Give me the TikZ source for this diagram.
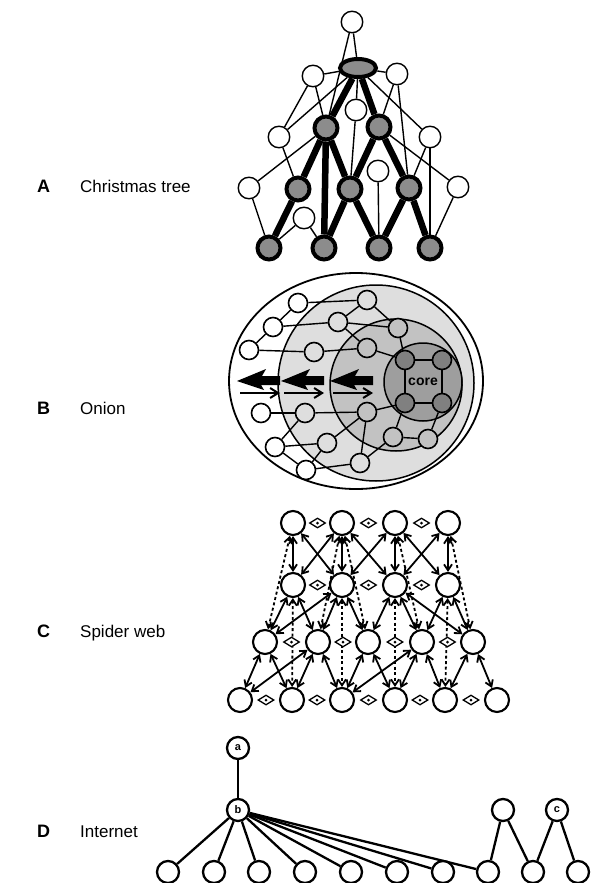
\documentclass[tikz,border=0pt]{standalone}
\usepackage{fontspec}
\setmainfont{Liberation Sans}
\usetikzlibrary{shapes.geometric,arrows.meta,calc}
\pgfdeclarelayer{rings}
\pgfdeclarelayer{edges}
\pgfsetlayers{rings,edges,main}
\begin{document}
\begin{tikzpicture}[x=1pt,y=-1pt,
  wn/.style={circle,draw,line width=1.4pt,fill=white,minimum size=21.5pt,inner sep=0pt},
  gn/.style={circle,draw,line width=4pt,fill=black!45,minimum size=23pt,inner sep=0pt},
  tline/.style={line width=1.4pt},
  thk/.style={line width=6.5pt},
  lab/.style={anchor=base west,inner sep=0pt,font=\fontsize{17}{20}\selectfont},
  letter/.style={anchor=base west,inner sep=0pt,font=\fontsize{18}{20}\selectfont\bfseries},
  on/.style={circle,draw,line width=1.6pt,minimum size=19pt,inner sep=0pt},
  oedge/.style={line width=1.4pt},
  sw/.style={circle,draw,line width=2.1pt,fill=white,minimum size=24pt,inner sep=0pt},
  swa/.style={line width=1.8pt,{Straight Barb[length=6pt,width=8pt]}-{Straight Barb[length=6pt,width=8pt]}},
  swd/.style={swa,dash pattern=on 3pt off 2.5pt},
  dia/.style={diamond,draw,line width=1.3pt,fill=white,minimum width=16pt,minimum height=10pt,inner sep=0pt},
  inet/.style={circle,draw,line width=2.3pt,fill=white,minimum size=22pt,inner sep=0pt,font=\fontsize{11}{12}\selectfont\bfseries},
  iedge/.style={line width=2.3pt}
]
\useasboundingbox (0,0) rectangle (590,883);
\begin{pgfonlayer}{rings}
\fill[white] (0,0) rectangle (590,883);
\end{pgfonlayer}

% ---------------- labels ----------------
\node[letter] (LA) at (37,192) {A};
\node[lab] (TA) at (80,192) {Christmas tree};
\node[letter] (LB) at (37,414) {B};
\node[lab] (TB) at (80,414) {Onion};
\node[letter] (LC) at (37,637) {C};
\node[lab] (TC) at (80,637) {Spider web};
\node[letter] (LD) at (37,837) {D};
\node[lab] (TD) at (80,837) {Internet};

% ---------------- A: Christmas tree ----------------
\node[wn] (T0) at (352,22) {};
\node[ellipse,draw,line width=4pt,fill=black!45,minimum width=36pt,minimum height=18pt,inner sep=0pt] (E) at (358,68) {};
\node[wn] (W1) at (313,76) {};
\node[wn] (W2) at (397,74) {};
\node[wn] (W3) at (356,110) {};
\node[gn] (G1) at (326,128) {};
\node[gn] (G2) at (379,127) {};
\node[wn] (W4) at (279,137) {};
\node[wn] (W5) at (430,137) {};
\node[wn] (W6) at (378,171) {};
\node[gn] (G3) at (298,189) {};
\node[gn] (G4) at (350,189) {};
\node[gn] (G5) at (409,188) {};
\node[wn] (W7) at (249,188) {};
\node[wn] (W8) at (458,187) {};
\node[wn] (W9) at (304,218) {};
\node[gn] (B1) at (269,248) {};
\node[gn] (B2) at (324,248) {};
\node[gn] (B3) at (379,248) {};
\node[gn] (B4) at (430,248) {};

\begin{pgfonlayer}{edges}
\draw[thk] (E) -- (G1);
\draw[thk] (E) -- (G2);
\draw[thk] (G1) -- (G3);
\draw[thk] (G1) -- (G4);
\draw[thk] (G1) -- (B2);
\draw[thk] (G2) -- (G4);
\draw[thk] (G2) -- (G5);
\draw[thk] (G3) -- (B1);
\draw[thk] (G4) -- (B2);
\draw[thk] (G4) -- (B3);
\draw[thk] (G5) -- (B3);
\draw[thk] (G5) -- (B4);

\draw[tline] (T0) -- (E);
\draw[tline] (T0) -- (G1);
\draw[tline] (W1) -- (E);
\draw[tline] (W1) -- (G1);
\draw[tline] (W1) -- (W4);
\draw[tline] (W4) -- (E);
\draw[tline] (W4) -- (G3);
\draw[tline] (W7) -- (G1);
\draw[tline] (W7) -- (B1);
\draw[tline] (W9) -- (B1);
\draw[tline] (W9) -- (B2);
\draw[tline] (W3) -- (E);
\draw[tline] (W3) -- (G4);
\draw[tline] (W6) -- (B3);
\draw[tline] (W2) -- (E);
\draw[tline] (W2) -- (G2);
\draw[tline] (W2) -- (G5);
\draw[tline] (E) -- (W5);
\draw[tline] (W5) -- (G5);
\draw[tline] (W5) -- (B4);
\draw[tline] (G2) -- (W8);
\draw[tline] (W8) -- (B4);
\end{pgfonlayer}

% ---------------- B: Onion ----------------
\begin{pgfonlayer}{rings}
\draw[line width=1.8pt,fill=white] (356,381) ellipse [x radius=127, y radius=108];
\draw[line width=1.5pt,fill=black!13] (376,383) circle [radius=98];
\draw[line width=1.5pt,fill=black!24] (396,385) circle [radius=66];
\draw[line width=1.5pt,fill=black!38] (423,382) circle [radius=39];
\end{pgfonlayer}

\node[on,fill=white] (n1) at (298,303) {};
\node[on,fill=white] (n2) at (273,327) {};
\node[on,fill=white] (n3) at (249,350) {};
\node[on,fill=white] (n4) at (261,413) {};
\node[on,fill=white] (n5) at (275,447) {};
\node[on,fill=white] (n6) at (306,470) {};
\node[on,fill=black!13] (m1) at (367,300) {};
\node[on,fill=black!13] (m2) at (338,322) {};
\node[on,fill=black!13] (m3) at (314,352) {};
\node[on,fill=black!13] (m4) at (305,413) {};
\node[on,fill=black!13] (m5) at (327,443) {};
\node[on,fill=black!13] (m6) at (360,463) {};
\node[on,fill=black!24] (k1) at (398,328) {};
\node[on,fill=black!24] (k2) at (367,348) {};
\node[on,fill=black!24] (k3) at (367,412) {};
\node[on,fill=black!24] (k4) at (393,437) {};
\node[on,fill=black!24] (k5) at (428,439) {};
\node[on,fill=black!50] (cTL) at (405,360) {};
\node[on,fill=black!50] (cTR) at (442,360) {};
\node[on,fill=black!50] (cBL) at (405,403) {};
\node[on,fill=black!50] (cBR) at (442,403) {};
\node[font=\fontsize{14}{16}\selectfont\bfseries] (core) at (423,382) {core};

\begin{pgfonlayer}{edges}
\draw[oedge] (n1) -- (n2);
\draw[oedge] (n2) -- (n3);
\draw[oedge] (n1) -- (m1);
\draw[oedge] (n2) -- (m2);
\draw[oedge] (n3) -- (m3);
\draw[oedge] (m1) -- (m2);
\draw[oedge] (m1) -- (k1);
\draw[oedge] (m2) -- (k1);
\draw[oedge] (m2) -- (k2);
\draw[oedge] (m3) -- (k2);
\draw[oedge] (k1) -- (cTL);
\draw[oedge] (k2) -- (cTL);
\draw[oedge] (n4) -- (m4);
\draw[oedge] (m4) -- (k3);
\draw[oedge] (n5) -- (m4);
\draw[oedge] (n5) -- (m5);
\draw[oedge] (n5) -- (n6);
\draw[oedge] (n6) -- (m6);
\draw[oedge] (m5) -- (n6);
\draw[oedge] (m6) -- (k4);
\draw[oedge] (k4) -- (k5);
\draw[oedge] (k4) -- (cBL);
\draw[oedge] (k5) -- (cBR);
\draw[oedge] (k3) -- (m5);
\draw[oedge] (k3) -- (m6);
\draw[oedge] (k3) -- (cBL);
\draw[oedge] (cTL) -- (cTR);
\draw[oedge] (cTR) -- (cBR);
\draw[oedge] (cBR) -- (cBL);
\draw[oedge] (cBL) -- (cTL);
\end{pgfonlayer}

\foreach \ax in {237,281,330}{
  \begin{scope}[shift={(\ax,381)}]
    \fill (0,0) -- (29,-12) -- (25,-5) -- (43,-5) -- (43,4) -- (24,4) -- (27,9) -- cycle;
    \draw[line width=2pt,-{Straight Barb[length=8pt,width=10pt,line width=2pt]}] (3,12) -- (43,12);
  \end{scope}
}

% ---------------- C: Spider web ----------------
\node[sw] (a1) at (293,523) {};
\node[sw] (a2) at (342,523) {};
\node[sw] (a3) at (395,523) {};
\node[sw] (a4) at (448,523) {};
\node[sw] (b1) at (293,585) {};
\node[sw] (b2) at (342,585) {};
\node[sw] (b3) at (395,585) {};
\node[sw] (b4) at (448,585) {};
\node[sw] (c1) at (265,642) {};
\node[sw] (c2) at (318,642) {};
\node[sw] (c3) at (368,642) {};
\node[sw] (c4) at (422,642) {};
\node[sw] (c5) at (473,642) {};
\node[sw] (d1) at (240,700) {};
\node[sw] (d2) at (292,700) {};
\node[sw] (d3) at (342,700) {};
\node[sw] (d4) at (395,700) {};
\node[sw] (d5) at (445,700) {};
\node[sw] (d6) at (497,700) {};

\begin{pgfonlayer}{edges}
\foreach \u/\v in {a1/b1,a1/b2,a2/b1,a2/b2,a2/b3,a3/b2,a3/b3,a3/b4,a4/b3,a4/b4,
                   b1/c1,b1/c2,b2/c2,b2/c3,b3/c3,b3/c4,b4/c4,b4/c5,b2/c1,b3/c5,
                   c1/d1,c1/d2,c2/d2,c2/d3,c3/d3,c3/d4,c4/d4,c4/d5,c5/d5,c5/d6,c2/d1,c4/d3}
  \draw[swa] (\u) -- (\v);
\foreach \u/\v in {a1/c1,a4/c5,a2/c2,a3/c4,b1/d2,b2/d3,b3/d4,b4/d5,a2/c3}
  \draw[swd] (\u) -- (\v);
\end{pgfonlayer}

\foreach \p/\q/\r in {a1/a2/e1,a2/a3/e2,a3/a4/e3,b1/b2/e4,b2/b3/e5,b3/b4/e6,
                      c1/c2/e7,c2/c3/e8,c3/c4/e9,c4/c5/e10,
                      d1/d2/e11,d2/d3/e12,d3/d4/e13,d4/d5/e14,d5/d6/e15}{
  \node[dia] (\r) at ($(\p)!0.5!(\q)$) {};
  \fill (\r) circle [radius=1.5];
}

% ---------------- D: Internet ----------------
\node[inet] (ia) at (238,748) {a};
\node[inet] (ib) at (238,810) {b};
\node[inet] (it1) at (503,810) {};
\node[inet] (ic) at (557,810) {c};
\node[inet] (q1) at (168,872) {};
\node[inet] (q2) at (214,872) {};
\node[inet] (q3) at (259,872) {};
\node[inet] (q4) at (305,872) {};
\node[inet] (q5) at (351,872) {};
\node[inet] (q6) at (397,872) {};
\node[inet] (q7) at (443,872) {};
\node[inet] (q8) at (488,872) {};
\node[inet] (q9) at (533,872) {};
\node[inet] (q10) at (578,872) {};

\begin{pgfonlayer}{edges}
\draw[iedge] (ia) -- (ib);
\foreach \k in {1,...,8} \draw[iedge] (ib) -- (q\k);
\draw[iedge] (it1) -- (q8);
\draw[iedge] (it1) -- (q9);
\draw[iedge] (ic) -- (q9);
\draw[iedge] (ic) -- (q10);
\end{pgfonlayer}
\end{tikzpicture}
\end{document}
